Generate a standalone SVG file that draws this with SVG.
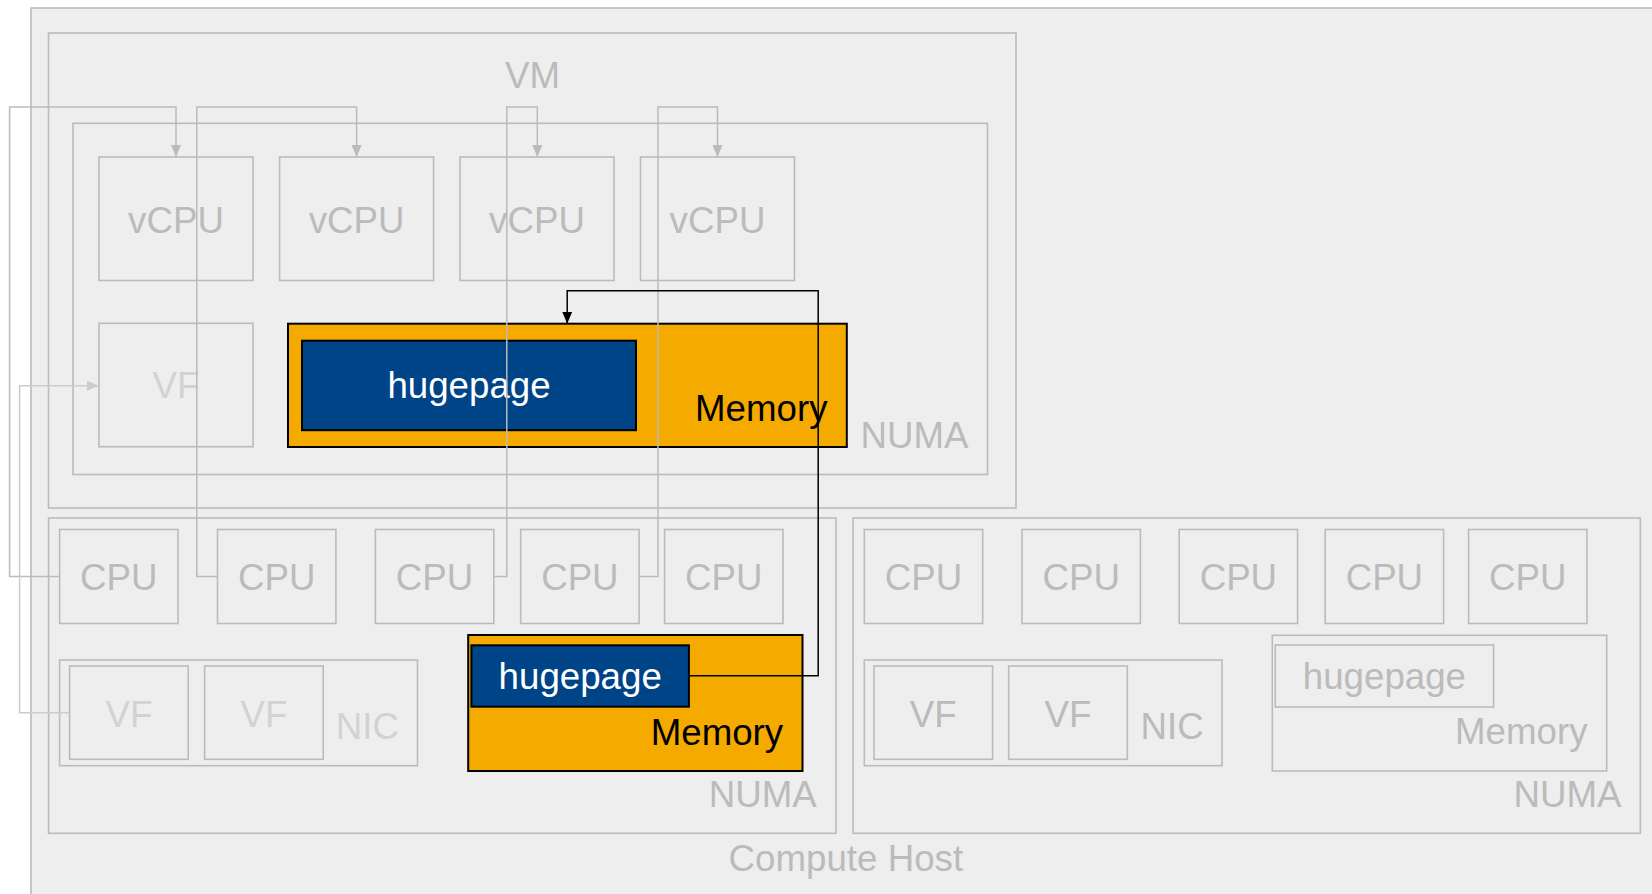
<svg xmlns="http://www.w3.org/2000/svg" width="1652" height="894" viewBox="0 0 1652 894">
  <defs>
    <style>
      text { font-family: "Liberation Sans", Arial, sans-serif; font-size: 36.7px; }
      .box { fill: #eeeeee; stroke: #bbbbbb; stroke-width: 1.6; }
      .lbl { fill: #bbbbbb; }
      .dim { fill: #d2d2d2; }
      .mid { text-anchor: middle; }
      .end { text-anchor: end; }
      .mem { fill: #f5aa00; stroke: #000000; stroke-width: 2; }
      .hp { fill: #004488; stroke: #000000; stroke-width: 2; }
      .hptext { fill: #ffffff; }
      .memtext { fill: #000000; }
      .wire { fill: none; stroke: #bbbbbb; stroke-width: 1.5; }
      .wire-dim { fill: none; stroke: #cccccc; stroke-width: 1.5; }
      .wire-dark { fill: none; stroke: #000000; stroke-width: 1.5; }
    </style>
    <marker id="arrow-grey" viewBox="0 0 12 10" refX="12" refY="5" markerWidth="12" markerHeight="10" markerUnits="userSpaceOnUse" orient="auto">
      <path d="M0,0 L12,5 L0,10 Z" fill="#bbbbbb"/>
    </marker>
    <marker id="arrow-dim" viewBox="0 0 12 10" refX="12" refY="5" markerWidth="12" markerHeight="10" markerUnits="userSpaceOnUse" orient="auto">
      <path d="M0,0 L12,5 L0,10 Z" fill="#cccccc"/>
    </marker>
    <marker id="arrow-dark" viewBox="0 0 12 10" refX="12" refY="5" markerWidth="12" markerHeight="10" markerUnits="userSpaceOnUse" orient="auto">
      <path d="M0,0 L12,5 L0,10 Z" fill="#000000"/>
    </marker>
  </defs>

  <rect x="0" y="0" width="1652" height="894" fill="#ffffff"/>

  <!-- Compute host -->
  <g id="compute-host">
    <rect class="box" x="31" y="8" width="1660" height="920"/>
    <text class="lbl" x="728.6" y="870.7">Compute Host</text>
  </g>

  <!-- Virtual machine -->
  <g id="vm">
    <rect class="box" x="48.5" y="33" width="967.5" height="475"/>
    <text class="lbl mid" x="532.5" y="87.7">VM</text>
  </g>

  <g id="vm-numa">
    <rect class="box" x="73" y="123.3" width="914.5" height="351.2"/>
    <text class="lbl end" x="968.6" y="448.3">NUMA</text>
  </g>

  <g id="vcpu-1">
    <rect class="box" x="99" y="157" width="154" height="123.5"/>
    <text class="lbl mid" x="176" y="233.3">vCPU</text>
  </g>
  <g id="vcpu-2">
    <rect class="box" x="279.6" y="157" width="154" height="123.5"/>
    <text class="lbl mid" x="356.6" y="233.3">vCPU</text>
  </g>
  <g id="vcpu-3">
    <rect class="box" x="460" y="157" width="154" height="123.5"/>
    <text class="lbl mid" x="537" y="233.3">vCPU</text>
  </g>
  <g id="vcpu-4">
    <rect class="box" x="640.5" y="157" width="154" height="123.5"/>
    <text class="lbl mid" x="717.5" y="233.3">vCPU</text>
  </g>

  <g id="vm-vf">
    <rect class="box" x="99" y="323.3" width="154" height="123.4"/>
    <text class="dim mid" x="176" y="398.3">VF</text>
  </g>

  <g id="vm-memory">
    <rect class="mem" x="288" y="323.7" width="558.8" height="123.3"/>
    <text class="memtext end" x="827.5" y="420.7">Memory</text>
  </g>
  <g id="vm-hugepage">
    <rect class="hp" x="302" y="340.7" width="334" height="89.5"/>
    <text class="hptext mid" x="469" y="397.7">hugepage</text>
  </g>

  <!-- Host NUMA node 0 -->
  <g id="host-numa-0">
    <rect class="box" x="48.6" y="518" width="787.4" height="315.3"/>
    <text class="lbl end" x="816.8" y="806.7">NUMA</text>
  </g>
  <g id="cpu-0-1">
    <rect class="box" x="59.6" y="529.5" width="118.4" height="94"/>
    <text class="lbl mid" x="118.8" y="590">CPU</text>
  </g>
  <g id="cpu-0-2">
    <rect class="box" x="217.5" y="529.5" width="118.4" height="94"/>
    <text class="lbl mid" x="276.7" y="590">CPU</text>
  </g>
  <g id="cpu-0-3">
    <rect class="box" x="375.4" y="529.5" width="118.4" height="94"/>
    <text class="lbl mid" x="434.6" y="590">CPU</text>
  </g>
  <g id="cpu-0-4">
    <rect class="box" x="520.7" y="529.5" width="118.4" height="94"/>
    <text class="lbl mid" x="579.9" y="590">CPU</text>
  </g>
  <g id="cpu-0-5">
    <rect class="box" x="664.6" y="529.5" width="118.4" height="94"/>
    <text class="lbl mid" x="723.8" y="590">CPU</text>
  </g>

  <g id="nic-0">
    <rect class="box" x="59.6" y="660" width="357.9" height="105.7"/>
    <text class="dim" x="335.7" y="739.3">NIC</text>
  </g>
  <g id="vf-0-1">
    <rect class="box" x="69.6" y="666" width="118.6" height="93.3"/>
    <text class="dim mid" x="128.9" y="726.7">VF</text>
  </g>
  <g id="vf-0-2">
    <rect class="box" x="204.6" y="666" width="118.6" height="93.3"/>
    <text class="dim mid" x="263.9" y="726.7">VF</text>
  </g>

  <g id="memory-0">
    <rect class="mem" x="468.2" y="635" width="334.3" height="136"/>
    <text class="memtext end" x="783.2" y="744.7">Memory</text>
  </g>
  <g id="hugepage-0">
    <rect class="hp" x="471.4" y="645.3" width="217.5" height="61.4"/>
    <text class="hptext mid" x="580.2" y="689">hugepage</text>
  </g>

  <!-- Host NUMA node 1 -->
  <g id="host-numa-1">
    <rect class="box" x="853" y="518" width="787.3" height="315.3"/>
    <text class="lbl end" x="1621.6" y="806.7">NUMA</text>
  </g>
  <g id="cpu-1-1">
    <rect class="box" x="864.3" y="529.5" width="118.4" height="94"/>
    <text class="lbl mid" x="923.5" y="590">CPU</text>
  </g>
  <g id="cpu-1-2">
    <rect class="box" x="1022" y="529.5" width="118.4" height="94"/>
    <text class="lbl mid" x="1081.2" y="590">CPU</text>
  </g>
  <g id="cpu-1-3">
    <rect class="box" x="1179.2" y="529.5" width="118.4" height="94"/>
    <text class="lbl mid" x="1238.4" y="590">CPU</text>
  </g>
  <g id="cpu-1-4">
    <rect class="box" x="1325.2" y="529.5" width="118.4" height="94"/>
    <text class="lbl mid" x="1384.4" y="590">CPU</text>
  </g>
  <g id="cpu-1-5">
    <rect class="box" x="1468.6" y="529.5" width="118.4" height="94"/>
    <text class="lbl mid" x="1527.8" y="590">CPU</text>
  </g>

  <g id="nic-1">
    <rect class="box" x="864.3" y="660" width="357.7" height="105.7"/>
    <text class="lbl" x="1140.5" y="739.3">NIC</text>
  </g>
  <g id="vf-1-1">
    <rect class="box" x="874" y="666" width="118.6" height="93.3"/>
    <text class="lbl mid" x="933.3" y="726.7">VF</text>
  </g>
  <g id="vf-1-2">
    <rect class="box" x="1008.7" y="666" width="118.6" height="93.3"/>
    <text class="lbl mid" x="1068" y="726.7">VF</text>
  </g>

  <g id="memory-1">
    <rect class="box" x="1272.3" y="635.3" width="334.4" height="135.7"/>
    <text class="lbl end" x="1587.5" y="744.3">Memory</text>
  </g>
  <g id="hugepage-1">
    <rect class="box" x="1275.3" y="645" width="218.3" height="62"/>
    <text class="lbl mid" x="1384.4" y="689.3">hugepage</text>
  </g>

  <!-- Pinning and mapping connectors -->
  <g id="connectors">
    <path class="wire" d="M59.6,576.5 H9.6 V107 H176 V157" marker-end="url(#arrow-grey)"/>
    <path class="wire" d="M217.5,576.5 H196.8 V107 H356.6 V157" marker-end="url(#arrow-grey)"/>
    <path class="wire" d="M493.8,576.5 H506.8 V107 H537.3 V157" marker-end="url(#arrow-grey)"/>
    <path class="wire" d="M639.1,576.5 H658 V107 H717.5 V157" marker-end="url(#arrow-grey)"/>
    <path class="wire-dim" d="M69.6,712.7 H19.6 V385.7 H99" marker-end="url(#arrow-dim)"/>
    <path class="wire-dark" d="M688.9,675.7 H818.2 V290.7 H567.2 V323.7" marker-end="url(#arrow-dark)"/>
  </g>
</svg>
